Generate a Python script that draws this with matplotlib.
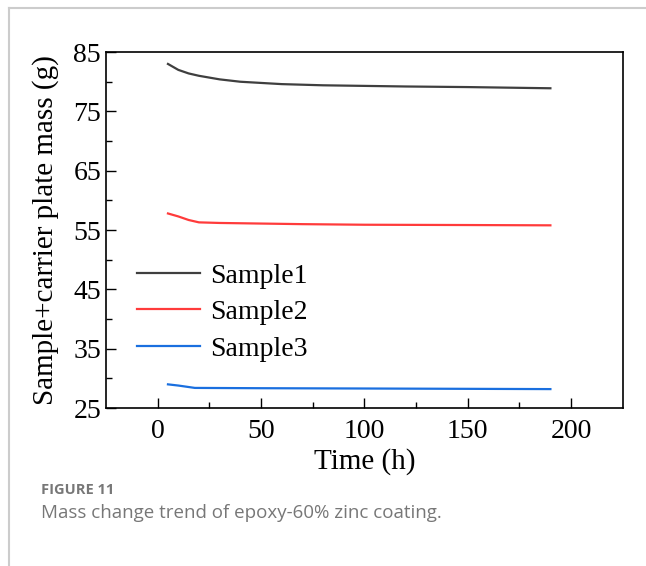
import numpy as np
import matplotlib.pyplot as plt
from matplotlib.lines import Line2D

# Datos
t1 = [5, 10, 15, 20, 30, 40, 50, 60, 80, 100, 120, 150, 190]
m1 = [83.0, 82.0, 81.4, 81.0, 80.4, 80.0, 79.8, 79.6, 79.4, 79.3, 79.2, 79.1, 78.9]
t2 = [5, 10, 15, 20, 30, 50, 70, 100, 150, 190]
m2 = [57.8, 57.3, 56.7, 56.3, 56.2, 56.1, 56.0, 55.9, 55.85, 55.8]
t3 = [5, 10, 18, 50, 100, 190]
m3 = [29.0, 28.8, 28.4, 28.35, 28.3, 28.2]
labels = ["Sample1", "Sample2", "Sample3"]
colors = ["#3f3f3f", "#ff3b3b", "#1a6fdf"]

plt.rcParams['font.family'] = 'Liberation Serif'

fig = plt.figure(figsize=(6.46, 5.66), dpi=100)
ax = fig.add_axes([0.164, 0.279, 0.800, 0.629])

ax.plot(t1, m1, color=colors[0], lw=1.6, label=labels[0])
ax.plot(t2, m2, color=colors[1], lw=1.6, label=labels[1])
ax.plot(t3, m3, color=colors[2], lw=1.6, label=labels[2])

ax.set_xlim(-25, 225)
ax.set_ylim(25, 85)
ax.set_xticks([0, 50, 100, 150, 200])
ax.set_xticks([25, 75, 125, 175], minor=True)
ax.set_yticks([25, 35, 45, 55, 65, 75, 85])
ax.set_yticks([30, 40, 50, 60, 70, 80], minor=True)
ax.tick_params(which='both', direction='in', labelsize=20, top=False, right=False)
ax.tick_params(which='major', length=7, width=1)
ax.tick_params(which='minor', length=4, width=1)
ax.tick_params(axis='x', which='major', pad=8)
for s in ax.spines.values():
    s.set_linewidth(1.2)

ax.set_xlabel('Time (h)', fontsize=21, labelpad=3)
ax.set_ylabel('Sample+carrier plate mass (g)', fontsize=21, labelpad=10)

ax.legend(loc='upper left', bbox_to_anchor=(0.06, 0.407), frameon=False, fontsize=20,
          handlelength=2.27, handletextpad=0.36, labelspacing=0.4, borderaxespad=0,
          borderpad=0)

# marco y pie de figura
fig.add_artist(Line2D([0.014, 1.0], [0.986, 0.986], color='#cccccc', lw=1.5))
fig.add_artist(Line2D([0.014, 0.014], [0.0, 0.986], color='#cccccc', lw=1.5))
fig.text(0.064, 0.134, 'FIGURE 11', fontsize=10.5, fontweight='bold', color='#777777',
         family='Open Sans', va='center')
fig.text(0.064, 0.094, 'Mass change trend of epoxy-60% zinc coating.', fontsize=13.5,
         color='#777777', family='Open Sans', va='center')

plt.savefig('out.png', dpi=100)
